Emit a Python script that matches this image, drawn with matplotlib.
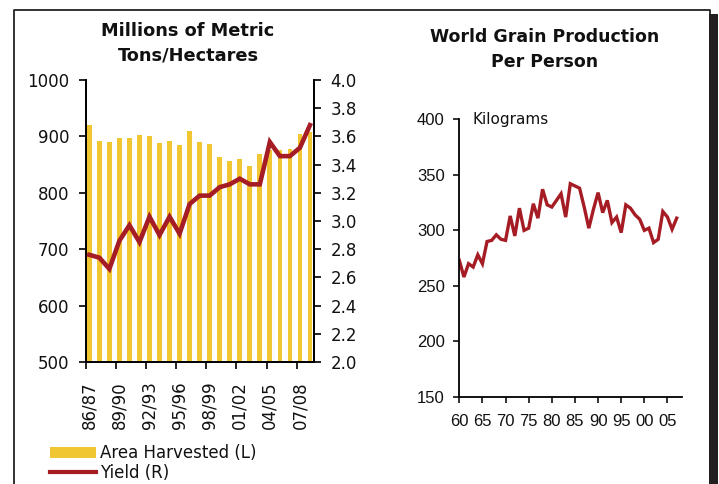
import matplotlib as mpl
import matplotlib.pyplot as plt
from matplotlib.lines import Line2D
from matplotlib.patches import Patch, Rectangle

# ---- data -------------------------------------------------------------
SEASONS = ["86/87", "87/88", "88/89", "89/90", "90/91", "91/92", "92/93",
           "93/94", "94/95", "95/96", "96/97", "97/98", "98/99", "99/00",
           "00/01", "01/02", "02/03", "03/04", "04/05", "05/06", "06/07",
           "07/08", "08/09"]
AREA_HARVESTED = [921, 892, 890, 898, 898, 903, 901, 889, 892, 885, 910,
                  890, 887, 864, 857, 860, 848, 868, 875, 876, 878, 905, 908]
YIELD = [2.76, 2.74, 2.66, 2.86, 2.97, 2.85, 3.03, 2.90, 3.03, 2.91, 3.12,
         3.18, 3.18, 3.24, 3.26, 3.30, 3.26, 3.26, 3.56, 3.46, 3.46, 3.52, 3.68]

YEARS = list(range(1960, 2008))
GRAIN_PER_PERSON = [273, 258, 270, 267, 278, 270, 290, 291, 296, 292, 291,
                    313, 295, 320, 300, 302, 324, 311, 337, 323, 321, 327,
                    333, 312, 342, 340, 338, 321, 302, 319, 334, 316, 327,
                    307, 312, 298, 323, 320, 314, 310, 300, 302, 289, 292,
                    317, 312, 301, 311]

LEFT_TICKS = [500, 600, 700, 800, 900, 1000]
RIGHT_TICKS = [2.0, 2.2, 2.4, 2.6, 2.8, 3.0, 3.2, 3.4, 3.6, 3.8, 4.0]
GPP_TICKS = [150, 200, 250, 300, 350, 400]
DECADE_TICKS = [1960, 1965, 1970, 1975, 1980, 1985, 1990, 1995, 2000, 2005]

BAR_COLOR = "#F1C633"
LINE_COLOR = "#A61C24"
TEXT_COLOR = "#111111"

mpl.rcParams.update({
    "font.family": "DejaVu Sans",
    "font.size": 12,
    "axes.linewidth": 1.3,
    "xtick.major.width": 1.3,
    "ytick.major.width": 1.3,
    "xtick.major.size": 5,
    "ytick.major.size": 5,
    "text.color": TEXT_COLOR,
    "xtick.color": TEXT_COLOR,
    "ytick.color": TEXT_COLOR,
})

fig = plt.figure(figsize=(7.19, 4.84), dpi=100)

# ---- left panel: area harvested + yield ------------------------------
ax = fig.add_axes([0.1196, 0.2521, 0.3171, 0.5826])
idx = list(range(len(SEASONS)))
ax.bar(idx, AREA_HARVESTED, width=0.47, color=BAR_COLOR, zorder=1)
ax.set_ylim(500, 1000)
ax.set_xlim(-0.33, len(SEASONS) - 0.6)
ax.set_yticks(LEFT_TICKS)
ax.tick_params(axis="y", direction="out", pad=7, labelsize=12)
ax.spines["top"].set_visible(False)

# tick marks sit between categories, labels on every third season
ax.set_xticks([i - 0.33 for i in idx[::3]])
ax.set_xticklabels([])
ax.set_xticks(idx[::3], minor=True)
ax.set_xticklabels(SEASONS[::3], minor=True, rotation=90)
ax.tick_params(axis="x", which="minor", length=0, pad=14, labelsize=12)
ax.tick_params(axis="x", which="major", direction="out")

ax2 = ax.twinx()
ax2.plot(idx, YIELD, color=LINE_COLOR, lw=3.3, zorder=3,
         solid_joinstyle="miter")
ax2.set_ylim(2.0, 4.0)
ax2.set_yticks(RIGHT_TICKS)
ax2.set_yticklabels([f"{v:.1f}" for v in RIGHT_TICKS])
ax2.tick_params(axis="y", direction="out", pad=7, labelsize=12)
ax2.spines["top"].set_visible(False)

fig.text(0.2615, 0.911, "Millions of Metric\nTons/Hectares", ha="center",
         va="center", fontsize=12.8, fontweight="bold", linespacing=1.42)

fig.legend(
    handles=[Patch(facecolor=BAR_COLOR, edgecolor="none"),
             Line2D([], [], color=LINE_COLOR, lw=3)],
    labels=["Area Harvested (L)", "Yield (R)"],
    loc="upper left", bbox_to_anchor=(0.069, 0.082), frameon=False,
    handlelength=2.8, handletextpad=0.2, labelspacing=0.12,
    borderpad=0, borderaxespad=0, fontsize=12,
)

# ---- right panel: grain production per person -----------------------
bx = fig.add_axes([0.6388, 0.1798, 0.3101, 0.5737])
bx.plot(YEARS, GRAIN_PER_PERSON, color=LINE_COLOR, lw=2.4,
        solid_joinstyle="miter")
bx.set_xlim(1960, 2008.2)
bx.set_ylim(150, 400)
bx.set_yticks(GPP_TICKS)
bx.set_xticks(DECADE_TICKS)
bx.set_xticklabels([f"{y % 100:02d}" for y in DECADE_TICKS])
bx.spines["top"].set_visible(False)
bx.spines["right"].set_visible(False)
bx.tick_params(axis="both", direction="out", length=4.5, width=1.2)
bx.tick_params(axis="x", pad=8)
bx.tick_params(axis="y", pad=6)
for lab in bx.get_xticklabels() + bx.get_yticklabels():
    lab.set_family("Liberation Sans")
    lab.set_fontsize(12)
bx.text(0.06, 1.0, "Kilograms", transform=bx.transAxes, ha="left",
        va="center", fontsize=11)

fig.text(0.758, 0.898, "World Grain Production\nPer Person", ha="center",
         va="center", fontsize=12.5, fontweight="bold", linespacing=1.45)

# ---- frame around the page ------------------------------------------
W, H = 719, 484
def px(x, y):
    return x / W, 1 - y / H

fig.add_artist(Line2D(*zip(px(14, 484), px(14, 10), px(710, 10), px(710, 14)),
                      color="#222222", lw=1.3, transform=fig.transFigure))
fig.add_artist(Rectangle(px(709, 484), 9 / W, 470 / H, color="#231F20",
                         transform=fig.transFigure, lw=0))

fig.savefig("out.png", dpi=100)
